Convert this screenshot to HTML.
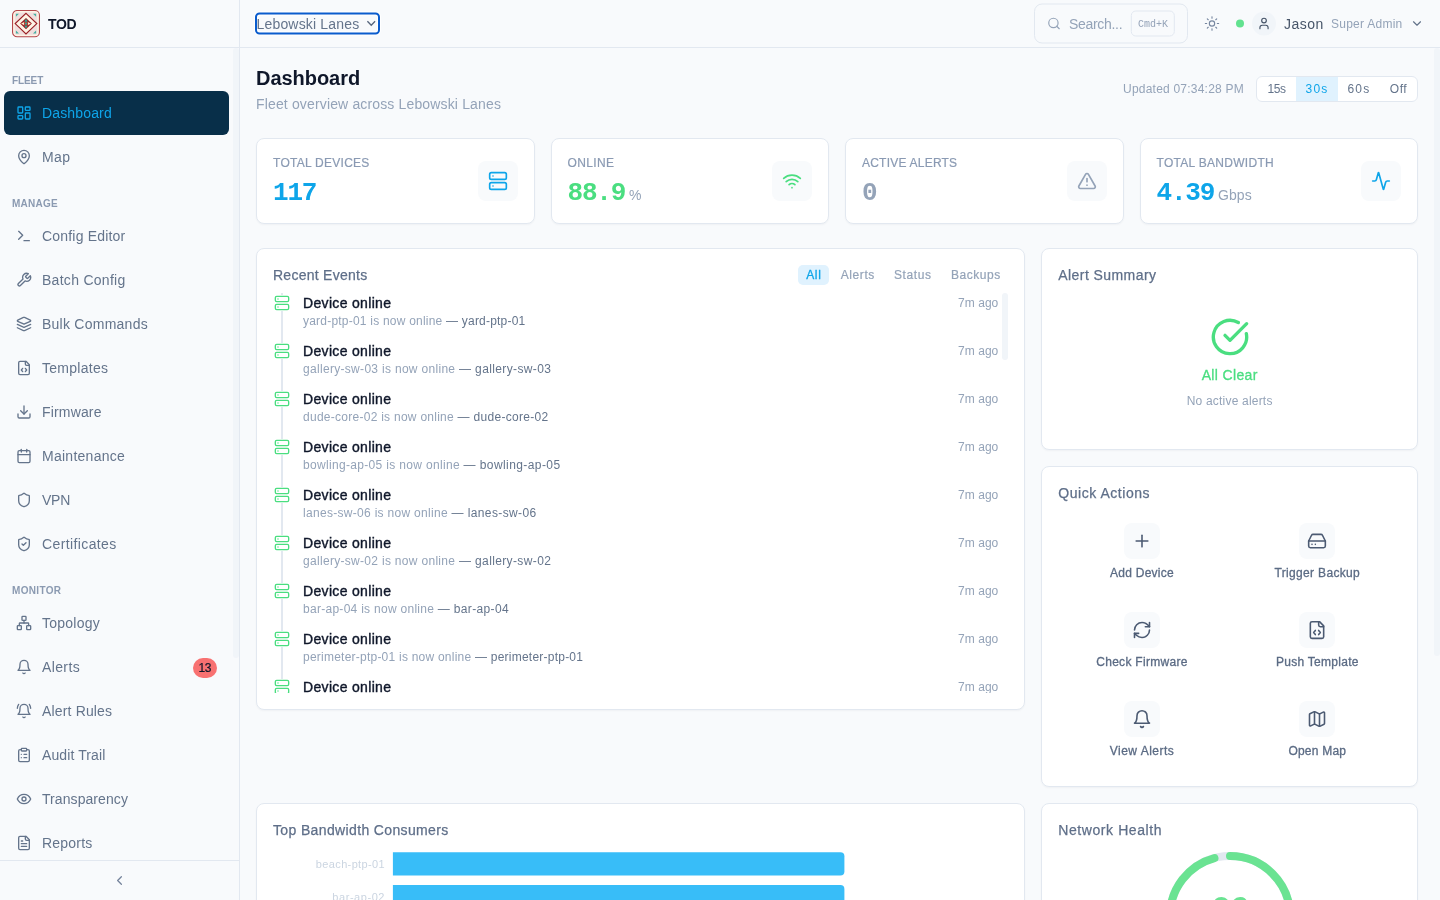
<!DOCTYPE html>
<html lang="en"><head>
<meta charset="utf-8">
<title>TOD - Dashboard</title>
<style>
*{box-sizing:border-box;margin:0;padding:0}
:root{--sans:"Liberation Sans",sans-serif;--mono:"Liberation Mono",monospace}
html,body{width:1440px;height:900px;overflow:hidden;background:#f8fafc;font-family:"Liberation Sans",sans-serif;color:#0f172a;-webkit-font-smoothing:antialiased}
svg{display:block;fill:none;stroke:currentColor;stroke-width:2;stroke-linecap:round;stroke-linejoin:round}
i{font-style:normal}
#app{position:absolute;left:0;top:0;width:1440px;height:900px;will-change:transform}
/* sidebar */
#side{position:absolute;left:0;top:0;width:240px;height:900px;border-right:1px solid #e2e8f0;background:#f8fafc}
#brand{position:absolute;left:0;top:0;width:239px;height:48px;border-bottom:1px solid #e2e8f0}
#brand .logo{position:absolute;left:12px;top:10px;width:28px;height:28px}
#brand .name{position:absolute;left:48px;top:14px;font-size:14px;line-height:20px;font-weight:700;color:#0f172a}
.sec{position:absolute;left:12px;margin-top:2px;font-size:10px;line-height:14px;font-weight:600;letter-spacing:.5px;color:#8b9ab1;text-transform:uppercase}
.nav{position:absolute;left:4px;width:225px;height:44px;border-radius:6px;color:#64748b;font-size:14px;line-height:44px}
.nav svg{position:absolute;left:12px;top:14px;width:16px;height:16px}
.nav span{position:absolute;left:38px;top:0;white-space:nowrap}
.nav.on{background:#082f49;color:#0ea5e9}
.badge{position:absolute;left:188.5px;top:13px;width:24.5px;height:20px;border-radius:10px;background:#f87171;color:#0f172a;font-size:12px;line-height:20px;font-weight:500;text-align:center;-webkit-text-stroke:.2px #0f172a}
#sthumb{position:absolute;left:233px;top:48px;width:6px;height:610px;background:#f1f5f9;border-radius:3px}
#sfoot{position:absolute;left:0;top:860px;width:239px;height:40px;border-top:1px solid #e2e8f0}
#sfoot svg{position:absolute;left:112px;top:12px;width:15px;height:15px;color:#74839b}
/* header */
#top{position:absolute;left:240px;top:0;width:1200px;height:48px;border-bottom:1px solid #e2e8f0;background:#f8fafc}
#sel{position:absolute;left:15px;top:12px;width:124.5px;height:22px;border:2px solid #0a5ccd;border-radius:4.5px;background:#f8fafc;box-shadow:0 0 0 1px #fff,inset 0 0 0 1px #fff;transform:translateY(.5px)}
#selt{position:absolute;left:16.5px;top:16px;font-size:14px;line-height:17px;color:#64748b;white-space:nowrap}
#selc{position:absolute;left:124px;top:17px;width:14px;height:14px;color:#56657c;stroke-width:1.3;stroke-linecap:butt;stroke-linejoin:miter}
#search{position:absolute;left:794px;top:3px;width:153.5px;height:40px;border:1px solid #e2e8f0;border-radius:8px;transform:translateY(.5px)}
#sicon{position:absolute;left:807px;top:16px;width:14px;height:14px;color:#94a3b8;transform:translateY(.5px)}
#sph{position:absolute;left:829px;top:14px;font-size:14px;line-height:20px;color:#94a3b8}
#kbd{position:absolute;left:891px;top:10px;width:44px;height:26px;border:1px solid #e2e8f0;border-radius:5px;transform:translate(-.2px,.5px)}
#kbdt{position:absolute;left:891px;top:17px;width:44px;font-family:"Liberation Mono",monospace;font-size:10px;line-height:15px;text-align:center;color:#94a3b8}
#sun{position:absolute;left:963.5px;top:15px;width:16px;height:16px;color:#7787a0;stroke-width:1.7;transform:translateY(.5px)}
#dot{position:absolute;left:995.5px;top:19px;width:8px;height:8px;border-radius:50%;background:#62e28f;transform:translate(0,.5px)}
#ava{position:absolute;left:1011.5px;transform:translateY(.5px);top:11px;width:24px;height:24px;border-radius:50%;background:#f1f5f9}
#ava svg{position:absolute;left:5px;top:5px;width:14px;height:14px;color:#475569}
#uname{position:absolute;left:1044px;top:14px;font-size:14px;line-height:20px;color:#475569}
#urole{position:absolute;left:1091px;top:16px;font-size:12px;line-height:16px;color:#94a3b8;white-space:nowrap}
#uchev{position:absolute;left:1170px;top:16px;width:14px;height:14px;color:#64748b;transform:translateY(.5px)}
/* main */
#main{position:absolute;left:0;top:0;width:1440px;height:900px;overflow:hidden;pointer-events:none}
#h1{position:absolute;left:256px;top:64px;font-size:20px;line-height:28px;font-weight:600;color:#0f172a;white-space:nowrap}
#sub{position:absolute;left:256px;top:94px;font-size:14px;line-height:20px;color:#94a3b8;white-space:nowrap}
#upd{position:absolute;left:1123px;top:81px;font-size:12px;line-height:16px;color:#94a3b8;white-space:nowrap}
#seg{position:absolute;left:1256px;top:76px;width:162px;height:26px;border:1px solid #e2e8f0;border-radius:6px;background:#fff;overflow:hidden;display:flex}
#seg i{display:block;height:24px;line-height:24px;font-size:12px;text-align:center;color:#64748b}
#seg i.on{background:#e0f2fe;color:#0ea5e9}
.card{position:absolute;background:#fff;border:1px solid #e2e8f0;border-radius:8px;box-shadow:0 1px 2px rgba(15,23,42,.04)}
.stat{top:138px;width:278.5px;height:86px}
.stat .lab{position:absolute;left:16px;top:16px;font-size:12px;line-height:16px;font-weight:500;color:#8a9ab3;text-transform:uppercase;letter-spacing:.6px;white-space:nowrap;-webkit-text-stroke:.2px #8a9ab3}
.stat .val{position:absolute;left:16px;top:38px;height:32px;white-space:nowrap}
.stat .val .n{font-family:"Liberation Mono",monospace;font-weight:700;font-size:26px;line-height:32px}
.stat .val .u{font-family:"Liberation Sans",sans-serif;font-weight:400;font-size:14px;color:#94a3b8;margin-left:4px}
.stat .ib{position:absolute;right:16px;top:22px;width:40px;height:40px;border-radius:8px;background:#f8fafc}
.stat .ib svg{position:absolute;left:10px;top:10px;width:20px;height:20px}
.ct{position:absolute;left:16px;top:16px;font-size:14px;line-height:20px;font-weight:500;color:#5f6f89;white-space:nowrap;-webkit-text-stroke:.25px #5f6f89}
#events{left:256px;top:248px;width:769.33px;height:462px}
.pills{position:absolute;right:16px;top:16px;width:210px;height:20px}
.pills i{position:absolute;top:0;height:20px;border-radius:5px;font-size:12px;line-height:20px;font-weight:500;text-align:center;color:#94a3b8;-webkit-text-stroke:.2px #94a3b8}
.pills i.on{background:#e0f2fe;color:#0ea5e9;font-weight:500;-webkit-text-stroke:.3px #0ea5e9}
#evlist{position:absolute;left:16px;right:16px;top:44px;height:400px;overflow:hidden}
#evlist .tl{position:absolute;left:8px;top:0;width:2px;height:400px;background:#e2e8f0}
.ev{position:absolute;left:0;right:10px;height:48px}
.ev svg{position:absolute;left:1px;top:2px;width:16px;height:16px;color:#4ade80;background:#fff;stroke-width:2}
.ev .t{position:absolute;left:30px;top:0;font-size:14px;line-height:20px;font-weight:500;color:#0f172a;white-space:nowrap;-webkit-text-stroke:.4px #0f172a}
.ev .m{position:absolute;left:30px;top:20px;font-size:12px;line-height:16px;color:#94a3b8;white-space:nowrap}
.ev .m b{font-weight:400;color:#64748b}
.ev .ago{position:absolute;right:0;top:2px;font-size:12px;line-height:16px;color:#94a3b8}
.evthumb{position:absolute;right:0;top:0;width:6px;height:67px;border-radius:3px;background:#f1f5f9}
#asum{left:1041.33px;top:248px;width:376.67px;height:202px}
#asum .ok{position:absolute;left:167.33px;top:68px;width:40px;height:40px;color:#4ade80;stroke-width:2}
#asum .ac{position:absolute;left:0;top:116px;width:374.67px;text-align:center;font-size:14px;line-height:20px;font-weight:500;color:#4ade80;-webkit-text-stroke:.3px #4ade80}
#asum .na{position:absolute;left:0;top:144px;width:374.67px;text-align:center;font-size:12px;line-height:16px;color:#94a3b8}
#quick{left:1041.33px;top:466px;width:376.67px;height:321px}
.qa{position:absolute;width:167.33px;height:81px}
.qb{position:absolute;left:65.67px;top:11px;width:36px;height:36px;border-radius:8px;background:#f8fafc}
.qb svg{position:absolute;left:8px;top:8px;width:20px;height:20px;color:#4b5a72;stroke-width:1.9}
.ql{position:absolute;left:0;top:54px;width:167.33px;text-align:center;font-size:12px;line-height:15px;font-weight:500;color:#5b6b84;white-space:nowrap;-webkit-text-stroke:.3px #5b6b84}
#bw{left:256px;top:803px;width:769.33px;height:300px}
.bl{position:absolute;left:0;width:128px;text-align:right;font-size:11px;line-height:14px;color:#cbd5e1;white-space:nowrap}
.bars{position:absolute;left:0;top:0;width:767px;height:96px}
#nh{left:1041.33px;top:803px;width:376.67px;height:300px}
#nh .ring{position:absolute;left:123.33px;top:48px;width:128px;height:128px}
#nh .score{position:absolute;left:0;top:89px;width:374.67px;text-align:center;font-family:"Liberation Mono",monospace;font-weight:700;font-size:33px;line-height:36px;color:#6ae392}
#mthumb{position:absolute;left:1434px;top:48px;width:6px;height:608px;border-radius:3px;background:#f1f5f9}
</style>
</head>
<body>
<div id="app">
<div id="side">
  <div id="brand">
    <svg class="logo" viewBox="0 0 28 28" style="stroke:none">
      <rect x=".55" y=".5" width="26.9" height="26.3" rx="4.6" fill="#fdf4e6" stroke="#b4474b" stroke-width="1.1"></rect>
      <rect x="2.7" y="2.6" width="22.6" height="22.1" rx="1.8" fill="#f0dedd"></rect>
      <path d="M3.9 3.8h3.1l-3.1 2.9zM24.1 3.8v2.9l-3.1-2.9zM3.9 23.5v-2.9l3.1 2.9zM24.1 23.5h-3.1l3.1-2.9z" fill="#45b0a2"></path>
      <path d="M14 3.3 24.8 13.6 14 23.9 3.2 13.6z" fill="#fdf4e6" stroke="#9a1e22" stroke-width="1.15" stroke-linejoin="miter"></path>
      <path d="M14 8 19.9 13.6 14 19.2 8.1 13.6z" fill="#9a1e22"></path>
      <path d="M9.1 13.6l3.1-1.7v3.4zM18.9 13.6l-3.1-1.7v3.4z" fill="#fbeccb"></path>
      <path d="M14 8.7l1.7 3.1h-3.4zM14 18.5l1.7-3.1h-3.4z" fill="#2fa897"></path>
      <rect x="12.3" y="11.9" width="3.4" height="3.4" rx=".4" fill="#c0392f"></rect>
      <circle cx="14" cy="13.6" r="1.15" fill="#2fa897"></circle>
    </svg>
    <div class="name" style="letter-spacing: -0.383px;">TOD</div>
  </div>
  <div id="nav">
  <div class="sec" style="top: 72px; letter-spacing: -0.09px;">Fleet</div>
  <div class="nav on" style="top:91px"><svg viewBox="0 0 24 24"><rect width="7" height="9" x="3" y="3" rx="1"></rect><rect width="7" height="5" x="14" y="3" rx="1"></rect><rect width="7" height="9" x="14" y="12" rx="1"></rect><rect width="7" height="5" x="3" y="16" rx="1"></rect></svg><span style="letter-spacing: 0.154px;">Dashboard</span></div>
  <div class="nav" style="top:135px"><svg viewBox="0 0 24 24"><path d="M20 10c0 4.993-5.539 10.193-7.399 11.799a1 1 0 0 1-1.202 0C9.539 20.193 4 14.993 4 10a8 8 0 0 1 16 0"></path><circle cx="12" cy="10" r="3"></circle></svg><span style="letter-spacing: 0.453px;">Map</span></div>
  <div class="sec" style="top: 195px; letter-spacing: 0.266px;">Manage</div>
  <div class="nav" style="top:214px"><svg viewBox="0 0 24 24"><path d="m4 17 6-6-6-6"></path><path d="M12 19h8"></path></svg><span style="letter-spacing: 0.189px;">Config Editor</span></div>
  <div class="nav" style="top:258px"><svg viewBox="0 0 24 24"><path d="M14.7 6.3a1 1 0 0 0 0 1.4l1.6 1.6a1 1 0 0 0 1.4 0l3.77-3.77a6 6 0 0 1-7.94 7.94l-6.91 6.91a2.12 2.12 0 0 1-3-3l6.91-6.91a6 6 0 0 1 7.94-7.94l-3.76 3.76z"></path></svg><span style="letter-spacing: 0.283px;">Batch Config</span></div>
  <div class="nav" style="top:302px"><svg viewBox="0 0 24 24"><path d="m12.83 2.18a2 2 0 0 0-1.66 0L2.6 6.08a1 1 0 0 0 0 1.83l8.58 3.91a2 2 0 0 0 1.66 0l8.58-3.9a1 1 0 0 0 0-1.83Z"></path><path d="m22 17.65-9.17 4.16a2 2 0 0 1-1.66 0L2 17.65"></path><path d="m22 12.65-9.17 4.16a2 2 0 0 1-1.66 0L2 12.65"></path></svg><span style="letter-spacing: 0.249px;">Bulk Commands</span></div>
  <div class="nav" style="top:346px"><svg viewBox="0 0 24 24"><path d="M10 12.5 8 15l2 2.5"></path><path d="m14 12.5 2 2.5-2 2.5"></path><path d="M14 2v4a2 2 0 0 0 2 2h4"></path><path d="M15 2H6a2 2 0 0 0-2 2v16a2 2 0 0 0 2 2h12a2 2 0 0 0 2-2V7z"></path></svg><span style="letter-spacing: 0.266px;">Templates</span></div>
  <div class="nav" style="top:390px"><svg viewBox="0 0 24 24"><path d="M21 15v4a2 2 0 0 1-2 2H5a2 2 0 0 1-2-2v-4"></path><path d="m7 10 5 5 5-5"></path><path d="M12 15V3"></path></svg><span style="letter-spacing: 0.165px;">Firmware</span></div>
  <div class="nav" style="top:434px"><svg viewBox="0 0 24 24"><path d="M8 2v4"></path><path d="M16 2v4"></path><rect width="18" height="18" x="3" y="4" rx="2"></rect><path d="M3 10h18"></path></svg><span style="letter-spacing: 0.266px;">Maintenance</span></div>
  <div class="nav" style="top:478px"><svg viewBox="0 0 24 24"><path d="M20 13c0 5-3.5 7.5-7.66 8.95a1 1 0 0 1-.67-.01C7.5 20.5 4 18 4 13V6a1 1 0 0 1 1-1c2 0 4.5-1.2 6.24-2.72a1.17 1.17 0 0 1 1.52 0C14.51 3.81 17 5 19 5a1 1 0 0 1 1 1z"></path></svg><span style="letter-spacing: -0.266px;">VPN</span></div>
  <div class="nav" style="top:522px"><svg viewBox="0 0 24 24"><path d="M20 13c0 5-3.5 7.5-7.66 8.95a1 1 0 0 1-.67-.01C7.5 20.5 4 18 4 13V6a1 1 0 0 1 1-1c2 0 4.5-1.2 6.24-2.72a1.17 1.17 0 0 1 1.52 0C14.51 3.81 17 5 19 5a1 1 0 0 1 1 1z"></path><path d="m9 12 2 2 4-4"></path></svg><span style="letter-spacing: 0.388px;">Certificates</span></div>
  <div class="sec" style="top: 582px; letter-spacing: 0.333px;">Monitor</div>
  <div class="nav" style="top:601px"><svg viewBox="0 0 24 24"><rect x="16" y="16" width="6" height="6" rx="1"></rect><rect x="2" y="16" width="6" height="6" rx="1"></rect><rect x="9" y="2" width="6" height="6" rx="1"></rect><path d="M5 16v-3a1 1 0 0 1 1-1h12a1 1 0 0 1 1 1v3"></path><path d="M12 12V8"></path></svg><span style="letter-spacing: 0.241px;">Topology</span></div>
  <div class="nav" style="top:645px"><svg viewBox="0 0 24 24"><path d="M6 8a6 6 0 0 1 12 0c0 7 3 9 3 9H3s3-2 3-9"></path><path d="M10.3 21a1.94 1.94 0 0 0 3.4 0"></path></svg><span style="letter-spacing: 0.372px;">Alerts</span><i class="badge" style="letter-spacing: -0.4px;">13</i></div>
  <div class="nav" style="top:689px"><svg viewBox="0 0 24 24"><path d="M6 8a6 6 0 0 1 12 0c0 7 3 9 3 9H3s3-2 3-9"></path><path d="M10.3 21a1.94 1.94 0 0 0 3.4 0"></path><path d="M4 2C2.8 3.7 2 5.7 2 8"></path><path d="M22 8c0-2.3-.8-4.3-2-6"></path></svg><span style="letter-spacing: 0.159px;">Alert Rules</span></div>
  <div class="nav" style="top:733px"><svg viewBox="0 0 24 24"><rect width="8" height="4" x="8" y="2" rx="1" ry="1"></rect><path d="M16 4h2a2 2 0 0 1 2 2v14a2 2 0 0 1-2 2H6a2 2 0 0 1-2-2V6a2 2 0 0 1 2-2h2"></path><path d="M12 11h4"></path><path d="M12 16h4"></path><path d="M8 11h.01"></path><path d="M8 16h.01"></path></svg><span style="letter-spacing: 0.103px;">Audit Trail</span></div>
  <div class="nav" style="top:777px"><svg viewBox="0 0 24 24"><path d="M2 12s3-7 10-7 10 7 10 7-3 7-10 7-10-7-10-7Z"></path><circle cx="12" cy="12" r="3"></circle></svg><span style="letter-spacing: 0.074px;">Transparency</span></div>
  <div class="nav" style="top:821px;height:39px;overflow:hidden"><svg viewBox="0 0 24 24"><path d="M15 2H6a2 2 0 0 0-2 2v16a2 2 0 0 0 2 2h12a2 2 0 0 0 2-2V7Z"></path><path d="M14 2v4a2 2 0 0 0 2 2h4"></path><path d="M10 9H8"></path><path d="M16 13H8"></path><path d="M16 17H8"></path></svg><span style="letter-spacing: 0.201px;">Reports</span></div>
  </div>
  <div id="sthumb"></div>
  <div id="sfoot"><svg viewBox="0 0 24 24"><path d="m15 18-6-6 6-6"></path></svg></div>
</div>

<div id="top">
  <div id="sel"></div><div id="selt" style="letter-spacing: 0.178px;">Lebowski Lanes</div><svg id="selc" viewBox="0 0 14 14"><path d="M3.4 4.3 7.25 8.3 11.1 4.3"></path></svg>
  <div id="search"></div>
  <svg id="sicon" viewBox="0 0 24 24"><circle cx="11" cy="11" r="8"></circle><path d="m21 21-4.3-4.3"></path></svg>
  <div id="sph" style="letter-spacing: -0.309px;">Search...</div>
  <div id="kbd"></div><div id="kbdt" style="letter-spacing: -0.003px;">Cmd+K</div>
  <svg id="sun" viewBox="0 0 24 24"><circle cx="12" cy="12" r="4"></circle><path d="M12 2v2"></path><path d="M12 20v2"></path><path d="m4.93 4.93 1.41 1.41"></path><path d="m17.66 17.66 1.41 1.41"></path><path d="M2 12h2"></path><path d="M20 12h2"></path><path d="m6.34 17.66-1.41 1.41"></path><path d="m19.07 4.93-1.41 1.41"></path></svg>
  <div id="dot"></div>
  <div id="ava"><svg viewBox="0 0 24 24"><path d="M19 21v-2a4 4 0 0 0-4-4H9a4 4 0 0 0-4 4v2"></path><circle cx="12" cy="7" r="4"></circle></svg></div>
  <div id="uname" style="letter-spacing: 0.461px;">Jason</div>
  <div id="urole" style="letter-spacing: 0.253px;">Super Admin</div>
  <svg id="uchev" viewBox="0 0 24 24"><path d="m6 9 6 6 6-6"></path></svg>
</div>

<div id="main">
<div id="h1" style="letter-spacing: -0.039px;">Dashboard</div>
<div id="sub" style="letter-spacing: 0.149px;">Fleet overview across Lebowski Lanes</div>
<div id="upd" style="letter-spacing: 0.221px;">Updated 07:34:28 PM</div>
<div id="seg"><i style="width: 39px; letter-spacing: -0.4px;">15s</i><i class="on" style="width: 42px; letter-spacing: 1.211px;">30s</i><i style="width: 42px; letter-spacing: 1.273px;">60s</i><i style="width: 37px; letter-spacing: 0.578px;">Off</i></div>
<div class="card stat" style="left:256px"><div class="lab" style="letter-spacing: 0.268px;">Total Devices</div><div class="val" style="color:#0ea5e9"><span class="n" style="letter-spacing: -1.203px;">117</span></div><div class="ib"><svg style="color:#0ea5e9" viewBox="0 0 24 24"><rect width="20" height="8" x="2" y="2" rx="2" ry="2"></rect><rect width="20" height="8" x="2" y="14" rx="2" ry="2"></rect><path d="M6 6h.01"></path><path d="M6 18h.01"></path></svg></div></div>
<div class="card stat" style="left:550.5px"><div class="lab" style="letter-spacing: 0.35px;">Online</div><div class="val" style="color:#4ade80"><span class="n" style="letter-spacing: -1.203px;">88.9</span><span class="u" style="letter-spacing: -0.4px;">%</span></div><div class="ib"><svg style="color:#4ade80" viewBox="0 0 24 24"><path d="M12 20h.01"></path><path d="M2 8.82a15 15 0 0 1 20 0"></path><path d="M5 12.859a10 10 0 0 1 14 0"></path><path d="M8.5 16.429a5 5 0 0 1 7 0"></path></svg></div></div>
<div class="card stat" style="left:845px"><div class="lab" style="letter-spacing: 0.22px;">Active Alerts</div><div class="val" style="color:#94a3b8"><span class="n" style="letter-spacing: -1.203px;">0</span></div><div class="ib"><svg style="color:#94a3b8" viewBox="0 0 24 24"><path d="m21.73 18-8-14a2 2 0 0 0-3.48 0l-8 14A2 2 0 0 0 4 21h16a2 2 0 0 0 1.73-3"></path><path d="M12 9v4"></path><path d="M12 17h.01"></path></svg></div></div>
<div class="card stat" style="left:1139.5px"><div class="lab" style="letter-spacing: 0.295px;">Total Bandwidth</div><div class="val" style="color:#0ea5e9"><span class="n" style="letter-spacing: -1.203px;">4.39</span><span class="u" style="letter-spacing: 0.021px;">Gbps</span></div><div class="ib"><svg style="color:#0ea5e9" viewBox="0 0 24 24"><path d="M22 12h-2.48a2 2 0 0 0-1.93 1.46l-2.35 8.36a.25.25 0 0 1-.48 0L9.24 2.18a.25.25 0 0 0-.48 0l-2.35 8.36A2 2 0 0 1 4.49 12H2"></path></svg></div></div>
<div class="card" id="events"><div class="ct" style="letter-spacing: 0.264px;">Recent Events</div><div class="pills"><i class="on" style="left: 0px; width: 31px; letter-spacing: 0.656px;">All</i><i style="left: 35px; width: 49px; letter-spacing: 0.566px;">Alerts</i><i style="left: 88px; width: 53px; letter-spacing: 0.609px;">Status</i><i style="left: 145px; width: 65px; letter-spacing: 0.536px;">Backups</i></div><div id="evlist"><div class="tl"></div><div class="ev" style="top:0px"><svg viewBox="0 0 24 24"><rect width="20" height="8" x="2" y="2" rx="2" ry="2"></rect><rect width="20" height="8" x="2" y="14" rx="2" ry="2"></rect><path d="M6 6h.01"></path><path d="M6 18h.01"></path></svg><div class="t" style="letter-spacing: 0.327px;">Device online</div><div class="m"><span style="letter-spacing: 0.217px;">yard-ptp-01 is now online </span><b style="letter-spacing: 0.203px;">— yard-ptp-01</b></div><div class="ago" style="letter-spacing: 0.044px;">7m ago</div></div><div class="ev" style="top:48px"><svg viewBox="0 0 24 24"><rect width="20" height="8" x="2" y="2" rx="2" ry="2"></rect><rect width="20" height="8" x="2" y="14" rx="2" ry="2"></rect><path d="M6 6h.01"></path><path d="M6 18h.01"></path></svg><div class="t" style="letter-spacing: 0.327px;">Device online</div><div class="m"><span style="letter-spacing: 0.307px;">gallery-sw-03 is now online </span><b style="letter-spacing: 0.376px;">— gallery-sw-03</b></div><div class="ago" style="letter-spacing: 0.044px;">7m ago</div></div><div class="ev" style="top:96px"><svg viewBox="0 0 24 24"><rect width="20" height="8" x="2" y="2" rx="2" ry="2"></rect><rect width="20" height="8" x="2" y="14" rx="2" ry="2"></rect><path d="M6 6h.01"></path><path d="M6 18h.01"></path></svg><div class="t" style="letter-spacing: 0.327px;">Device online</div><div class="m"><span style="letter-spacing: 0.266px;">dude-core-02 is now online </span><b style="letter-spacing: 0.3px;">— dude-core-02</b></div><div class="ago" style="letter-spacing: 0.044px;">7m ago</div></div><div class="ev" style="top:144px"><svg viewBox="0 0 24 24"><rect width="20" height="8" x="2" y="2" rx="2" ry="2"></rect><rect width="20" height="8" x="2" y="14" rx="2" ry="2"></rect><path d="M6 6h.01"></path><path d="M6 18h.01"></path></svg><div class="t" style="letter-spacing: 0.327px;">Device online</div><div class="m"><span style="letter-spacing: 0.326px;">bowling-ap-05 is now online </span><b style="letter-spacing: 0.415px;">— bowling-ap-05</b></div><div class="ago" style="letter-spacing: 0.044px;">7m ago</div></div><div class="ev" style="top:192px"><svg viewBox="0 0 24 24"><rect width="20" height="8" x="2" y="2" rx="2" ry="2"></rect><rect width="20" height="8" x="2" y="14" rx="2" ry="2"></rect><path d="M6 6h.01"></path><path d="M6 18h.01"></path></svg><div class="t" style="letter-spacing: 0.327px;">Device online</div><div class="m"><span style="letter-spacing: 0.302px;">lanes-sw-06 is now online </span><b style="letter-spacing: 0.379px;">— lanes-sw-06</b></div><div class="ago" style="letter-spacing: 0.044px;">7m ago</div></div><div class="ev" style="top:240px"><svg viewBox="0 0 24 24"><rect width="20" height="8" x="2" y="2" rx="2" ry="2"></rect><rect width="20" height="8" x="2" y="14" rx="2" ry="2"></rect><path d="M6 6h.01"></path><path d="M6 18h.01"></path></svg><div class="t" style="letter-spacing: 0.327px;">Device online</div><div class="m"><span style="letter-spacing: 0.305px;">gallery-sw-02 is now online </span><b style="letter-spacing: 0.373px;">— gallery-sw-02</b></div><div class="ago" style="letter-spacing: 0.044px;">7m ago</div></div><div class="ev" style="top:288px"><svg viewBox="0 0 24 24"><rect width="20" height="8" x="2" y="2" rx="2" ry="2"></rect><rect width="20" height="8" x="2" y="14" rx="2" ry="2"></rect><path d="M6 6h.01"></path><path d="M6 18h.01"></path></svg><div class="t" style="letter-spacing: 0.327px;">Device online</div><div class="m"><span style="letter-spacing: 0.28px;">bar-ap-04 is now online </span><b style="letter-spacing: 0.344px;">— bar-ap-04</b></div><div class="ago" style="letter-spacing: 0.044px;">7m ago</div></div><div class="ev" style="top:336px"><svg viewBox="0 0 24 24"><rect width="20" height="8" x="2" y="2" rx="2" ry="2"></rect><rect width="20" height="8" x="2" y="14" rx="2" ry="2"></rect><path d="M6 6h.01"></path><path d="M6 18h.01"></path></svg><div class="t" style="letter-spacing: 0.327px;">Device online</div><div class="m"><span style="letter-spacing: 0.232px;">perimeter-ptp-01 is now online </span><b style="letter-spacing: 0.233px;">— perimeter-ptp-01</b></div><div class="ago" style="letter-spacing: 0.044px;">7m ago</div></div><div class="ev" style="top:384px"><svg viewBox="0 0 24 24"><rect width="20" height="8" x="2" y="2" rx="2" ry="2"></rect><rect width="20" height="8" x="2" y="14" rx="2" ry="2"></rect><path d="M6 6h.01"></path><path d="M6 18h.01"></path></svg><div class="t" style="letter-spacing: 0.327px;">Device online</div><div class="m"><span style="letter-spacing: 0.291px;">lobby-ap-02 is now online </span><b style="letter-spacing: 0.355px;">— lobby-ap-02</b></div><div class="ago" style="letter-spacing: 0.044px;">7m ago</div></div><div class="evthumb"></div></div></div>
<div class="card" id="asum"><div class="ct" style="letter-spacing: 0.424px;">Alert Summary</div><svg class="ok" viewBox="0 0 24 24"><path d="M21.801 10A10 10 0 1 1 17 3.335"></path><path d="m9 11 3 3L22 4"></path></svg><div class="ac" style="letter-spacing: 0.344px;">All Clear</div><div class="na" style="letter-spacing: 0.199px;">No active alerts</div></div>
<div class="card" id="quick"><div class="ct" style="letter-spacing: 0.538px;">Quick Actions</div><div class="qa" style="left:16px;top:45px"><div class="qb"><svg viewBox="0 0 24 24"><path d="M5 12h14"></path><path d="M12 5v14"></path></svg></div><div class="ql" style="letter-spacing: 0.26px;">Add Device</div></div><div class="qa" style="left:191.33px;top:45px"><div class="qb"><svg viewBox="0 0 24 24"><path d="M22 12H2"></path><path d="M5.45 5.11 2 12v6a2 2 0 0 0 2 2h16a2 2 0 0 0 2-2v-6l-3.45-6.89A2 2 0 0 0 16.76 4H7.24a2 2 0 0 0-1.79 1.11z"></path><path d="M6 16h.01"></path><path d="M10 16h.01"></path></svg></div><div class="ql" style="letter-spacing: 0.331px;">Trigger Backup</div></div><div class="qa" style="left:16px;top:134px"><div class="qb"><svg viewBox="0 0 24 24"><path d="M3 12a9 9 0 0 1 9-9 9.75 9.75 0 0 1 6.74 2.74L21 8"></path><path d="M21 3v5h-5"></path><path d="M21 12a9 9 0 0 1-9 9 9.75 9.75 0 0 1-6.74-2.74L3 16"></path><path d="M8 16H3v5"></path></svg></div><div class="ql" style="letter-spacing: 0.304px;">Check Firmware</div></div><div class="qa" style="left:191.33px;top:134px"><div class="qb"><svg viewBox="0 0 24 24"><path d="M10 12.5 8 15l2 2.5"></path><path d="m14 12.5 2 2.5-2 2.5"></path><path d="M14 2v4a2 2 0 0 0 2 2h4"></path><path d="M15 2H6a2 2 0 0 0-2 2v16a2 2 0 0 0 2 2h12a2 2 0 0 0 2-2V7z"></path></svg></div><div class="ql" style="letter-spacing: 0.283px;">Push Template</div></div><div class="qa" style="left:16px;top:223px"><div class="qb"><svg viewBox="0 0 24 24"><path d="M6 8a6 6 0 0 1 12 0c0 7 3 9 3 9H3s3-2 3-9"></path><path d="M10.3 21a1.94 1.94 0 0 0 3.4 0"></path></svg></div><div class="ql" style="letter-spacing: 0.477px;">View Alerts</div></div><div class="qa" style="left:191.33px;top:223px"><div class="qb"><svg viewBox="0 0 24 24"><path d="M14.106 5.553a2 2 0 0 0 1.788 0l3.659-1.83A1 1 0 0 1 21 4.619v12.764a1 1 0 0 1-.553.894l-4.553 2.277a2 2 0 0 1-1.788 0l-4.212-2.106a2 2 0 0 0-1.788 0l-3.659 1.83A1 1 0 0 1 3 19.381V6.618a1 1 0 0 1 .553-.894l4.553-2.277a2 2 0 0 1 1.788 0z"></path><path d="M15 5.764v15"></path><path d="M9 3.236v15"></path></svg></div><div class="ql" style="letter-spacing: 0.221px;">Open Map</div></div></div>
<div class="card" id="bw"><div class="ct" style="letter-spacing: 0.363px;">Top Bandwidth Consumers</div><div class="bl" style="top: 53px; letter-spacing: 0.361px;">beach-ptp-01</div><div class="bl" style="top: 86px; letter-spacing: 0.551px;">bar-ap-02</div><svg class="bars" viewBox="0 0 767 96" style="stroke:none"><path d="M135.9 48.2h447.5a4 4 0 0 1 4 4v15.4a4 4 0 0 1-4 4H135.9z" fill="#38bdf8"></path><path d="M135.9 81.1h447.5a4 4 0 0 1 4 4v15.4H135.9z" fill="#38bdf8"></path></svg></div>
<div class="card" id="nh"><div class="ct" style="letter-spacing: 0.571px;">Network Health</div><svg class="ring" viewBox="0 0 128 128" style="stroke-width:8"><circle cx="64" cy="64" r="60" stroke="#e2e8f0"></circle><circle cx="64" cy="64" r="60" stroke="#6ae392" stroke-dasharray="360.6 377" transform="rotate(-90 64 64)"></circle></svg><div class="score" style="letter-spacing: -1.805px;">96</div></div>
<div id="mthumb"></div>
</div>
</div>


</body></html>
